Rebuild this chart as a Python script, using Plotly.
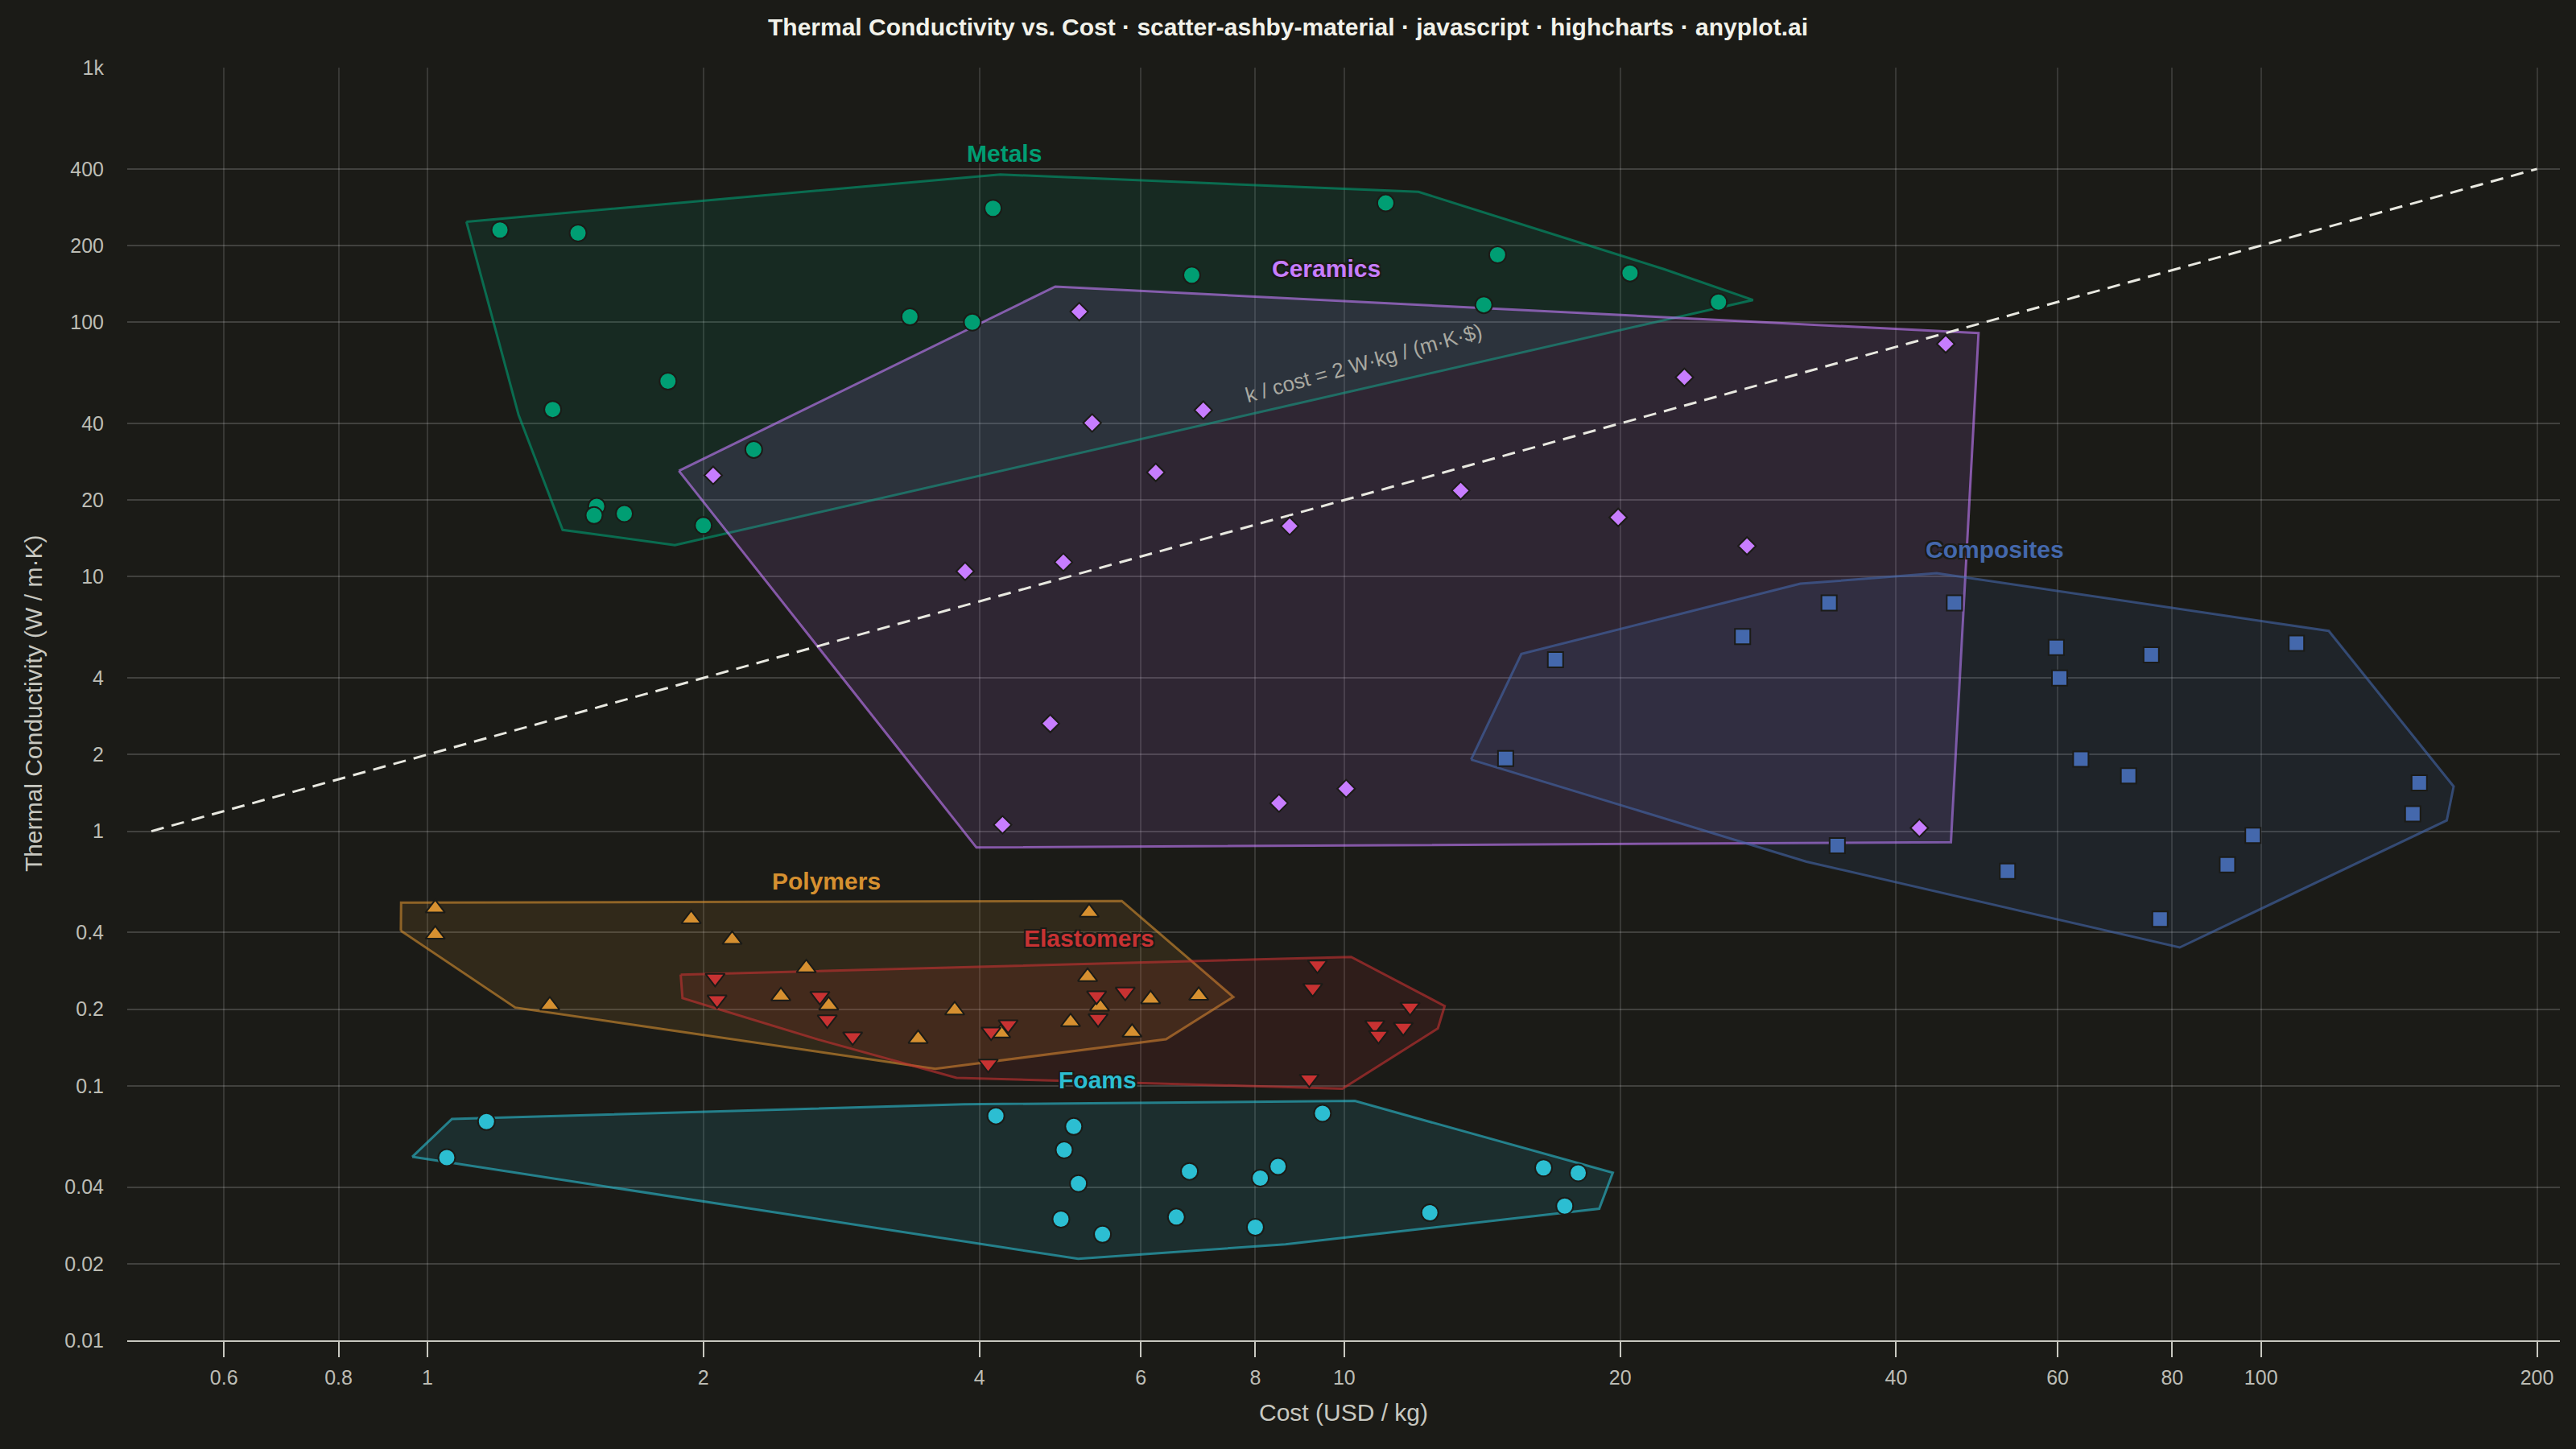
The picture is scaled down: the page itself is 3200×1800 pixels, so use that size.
import numpy as np
import plotly.graph_objects as go


# Material families: cost (USD/kg) and thermal conductivity (W/m·K)
metals_cost = [1.20, 1.46, 4.14, 3.36, 3.93, 1.83, 1.37, 2.27, 1.53, 1.52, 1.64, 2.00, 11.1, 6.82, 14.7, 14.2, 20.5, 25.6]
metals_k = [230, 224, 280, 105, 100, 58.6, 45.4, 31.6, 18.9, 17.4, 17.7, 15.9, 294, 153, 184, 117, 156, 120]

ceramics_cost = [5.14, 5.31, 7.02, 6.23, 8.72, 13.4, 19.9, 23.5, 27.5, 45.3, 2.05, 4.94, 3.86, 4.78, 4.24, 8.49, 10.05, 42.4]
ceramics_k = [110, 40.2, 45.1, 25.7, 15.8, 21.8, 17.1, 60.7, 13.2, 82.1, 25.0, 11.4, 10.5, 2.65, 1.06, 1.29, 1.47, 1.03]

composites_cost = [17.0, 15.0, 27.2, 33.8, 46.3, 59.8, 60.3, 75.9, 109.3, 63.6, 71.7, 148.8, 146.4, 98.0, 91.9, 52.9, 34.5, 77.6]
composites_k = [4.72, 1.93, 5.82, 7.89, 7.89, 5.27, 4.00, 4.93, 5.48, 1.92, 1.65, 1.55, 1.17, 0.964, 0.739, 0.697, 0.877, 0.452]

polymers_cost = [1.02, 1.02, 1.94, 2.15, 2.59, 1.36, 2.43, 2.74, 3.43, 5.27, 5.25, 5.41, 6.15, 6.94, 5.03, 5.87, 4.22, 3.76]
polymers_k = [0.498, 0.393, 0.452, 0.375, 0.290, 0.207, 0.225, 0.207, 0.153, 0.480, 0.268, 0.205, 0.219, 0.226, 0.178, 0.162, 0.161, 0.198]

elastomers_cost = [2.06, 2.07, 2.68, 2.73, 2.91, 5.37, 5.77, 5.39, 4.12, 4.30, 4.09, 9.35, 9.24, 9.16, 11.8, 10.8, 10.9, 11.6]
elastomers_k = [0.265, 0.218, 0.225, 0.182, 0.156, 0.226, 0.234, 0.184, 0.163, 0.174, 0.122, 0.299, 0.242, 0.1065, 0.204, 0.173, 0.158, 0.170]

foams_cost = [1.16, 1.05, 4.17, 5.07, 4.95, 5.13, 4.91, 5.45, 6.78, 6.56, 8.10, 8.47, 8.00, 9.47, 12.4, 16.5, 18.0, 17.4]
foams_k = [0.0723, 0.0522, 0.0762, 0.0692, 0.056, 0.0413, 0.0299, 0.0261, 0.0461, 0.0305, 0.0434, 0.0482, 0.0278, 0.078, 0.0317, 0.0476, 0.0455, 0.0337]

# guide line k / cost = const
ref_cost = [0.5, 200]
ref_ratio = 2

x_tickvals = [0.6, 0.8, 1, 2, 4, 6, 8, 10, 20, 40, 60, 80, 100, 200]
x_ticktext = ["0.6", "0.8", "1", "2", "4", "6", "8", "10", "20", "40", "60", "80", "100", "200"]
y_tickvals = [0.01, 0.02, 0.04, 0.1, 0.2, 0.4, 1, 2, 4, 10, 20, 40, 100, 200, 400, 1000]
y_ticktext = ["0.01", "0.02", "0.04", "0.1", "0.2", "0.4", "1", "2", "4", "10", "20", "40", "100", "200", "400", "1k"]

# ---- style / layout ----
BG = "#1B1B17"
FONT = "Liberation Sans, Arial, sans-serif"
W, H = 3200, 1800
MARGIN = dict(l=158, r=20, t=84, b=135)
X_RANGE = [-0.3274, 2.326]
Y_RANGE = [-2, 3]
PX_X = (W - MARGIN["l"] - MARGIN["r"]) / (X_RANGE[1] - X_RANGE[0])
PX_Y = (H - MARGIN["t"] - MARGIN["b"]) / (Y_RANGE[1] - Y_RANGE[0])
HULL_PAD = 43  # px, envelope drawn slightly outside the points

groups = [
    # name, cost, k, colour, symbol, marker size, label position (log10 x, log10 y)
    ("Metals", metals_cost, metals_k, "0,158,115", "circle", 21, (0.629, 2.664)),
    ("Ceramics", ceramics_cost, ceramics_k, "199,125,255", "diamond", 17, (0.980, 2.212)),
    ("Composites", composites_cost, composites_k, "68,104,172", "square", 19, (1.710, 1.108)),
    ("Polymers", polymers_cost, polymers_k, "214,144,48", "triangle-up", 21, (0.4356, -0.1945)),
    ("Elastomers", elastomers_cost, elastomers_k, "200,50,50", "triangle-down", 21, (0.722, -0.419)),
    ("Foams", foams_cost, foams_k, "44,190,210", "circle", 21, (0.731, -0.976)),
]


def padded_hull(cost, k, pad=HULL_PAD):
    """Convex hull in screen space, pushed out from the centroid by pad px."""
    u = np.log10(cost) * PX_X
    v = np.log10(k) * PX_Y
    pts = sorted(set(zip(u, v)))

    def cross(o, a, b):
        return (a[0] - o[0]) * (b[1] - o[1]) - (a[1] - o[1]) * (b[0] - o[0])

    lower, upper = [], []
    for p in pts:
        while len(lower) >= 2 and cross(lower[-2], lower[-1], p) <= 0:
            lower.pop()
        lower.append(p)
    for p in reversed(pts):
        while len(upper) >= 2 and cross(upper[-2], upper[-1], p) <= 0:
            upper.pop()
        upper.append(p)
    hull = lower[:-1] + upper[:-1]

    cx, cy = u.mean(), v.mean()
    xs, ys = [], []
    for x, y in hull + hull[:1]:
        dx, dy = x - cx, y - cy
        d = np.hypot(dx, dy)
        xs.append(x + dx / d * pad)
        ys.append(y + dy / d * pad)
    return 10 ** (np.array(xs) / PX_X), 10 ** (np.array(ys) / PX_Y)


fig = go.Figure()

# envelopes
for name, cost, k, rgb, symbol, size, _ in groups:
    hx, hy = padded_hull(cost, k)
    fig.add_trace(
        go.Scatter(
            x=hx, y=hy, mode="lines", fill="toself",
            fillcolor=f"rgba({rgb},0.12)",
            line=dict(color=f"rgba({rgb},0.6)", width=3),
            hoverinfo="skip", showlegend=False,
        )
    )

# reference line
fig.add_trace(
    go.Scatter(
        x=ref_cost, y=[ref_ratio * c for c in ref_cost], mode="lines",
        line=dict(color="#E8E8E0", width=3, dash="16px,10px"),
        hoverinfo="skip", showlegend=False,
    )
)

# points
for name, cost, k, rgb, symbol, size, _ in groups:
    fig.add_trace(
        go.Scatter(
            x=cost, y=k, mode="markers", name=name,
            marker=dict(symbol=symbol, size=size, color=f"rgb({rgb})",
                        line=dict(color=BG, width=2)),
            showlegend=False,
        )
    )

outline = f"-2px -2px 0 {BG}, 2px -2px 0 {BG}, -2px 2px 0 {BG}, 2px 2px 0 {BG}"
annotations = []
for name, cost, k, rgb, symbol, size, (lx, ly) in groups:
    annotations.append(dict(
        x=lx, y=ly, xref="x", yref="y", text=f"<b>{name}</b>", showarrow=False,
        font=dict(family=FONT, size=30, color=f"rgb({rgb})", shadow=outline),
    ))

annotations.append(dict(
    x=1.0214, y=1.839, xref="x", yref="y", showarrow=False,
    text="k / cost = 2 W·kg / (m·K·$)", textangle=-15.5,
    font=dict(family=FONT, size=26, color="#A9A9A1"),
))
annotations.append(dict(
    x=0, y=0.5, xref="paper", yref="paper", xshift=-135, showarrow=False,
    text="Thermal Conductivity (W / m·K)", textangle=-90,
    font=dict(family=FONT, size=30, color="#C8C8C0"),
))
annotations.append(dict(
    x=0.5, y=0, xref="paper", yref="paper", yshift=-108, showarrow=False,
    text="Cost (USD / kg)",
    font=dict(family=FONT, size=30, color="#C8C8C0"),
))

fig.update_layout(
    width=W, height=H,
    margin=MARGIN,
    paper_bgcolor=BG, plot_bgcolor=BG,
    title=dict(
        text="<b>Thermal Conductivity vs. Cost · scatter-ashby-material · javascript · highcharts · anyplot.ai</b>",
        x=0.5, xanchor="center", y=1 - 33 / H, yanchor="middle",
        font=dict(family=FONT, size=30, color="#F2F2EA"),
    ),
    annotations=annotations,
    showlegend=False,
)
fig.update_xaxes(
    type="log", range=X_RANGE, tickvals=x_tickvals, ticktext=x_ticktext,
    showgrid=True, gridcolor="rgba(255,255,255,0.13)", gridwidth=1.5,
    showline=True, linecolor="#C8C8C0", linewidth=2,
    ticks="outside", ticklen=19, tickwidth=2, tickcolor="#C8C8C0",
    ticklabelstandoff=4,
    tickfont=dict(family=FONT, size=25, color="#BDBDB5"),
    zeroline=False,
)
fig.update_yaxes(
    type="log", range=Y_RANGE, tickvals=y_tickvals, ticktext=y_ticktext,
    showgrid=True, gridcolor="rgba(255,255,255,0.17)", gridwidth=2,
    showline=False, ticks="", ticklabelstandoff=28,
    tickfont=dict(family=FONT, size=25, color="#BDBDB5"),
    zeroline=False,
)

fig.write_html(
    "out.html",
    config={"displayModeBar": False},
    post_script=f"document.body.style.margin='0';document.body.style.background='{BG}';",
)
